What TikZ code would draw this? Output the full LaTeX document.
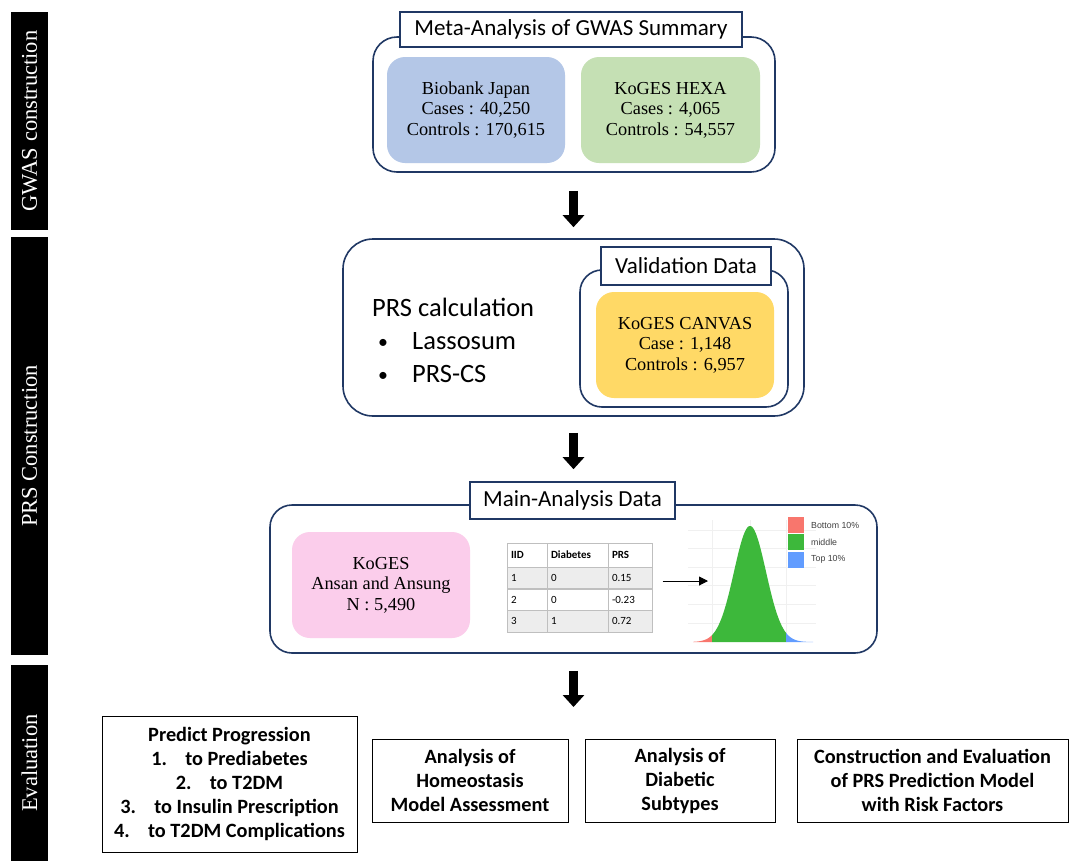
\documentclass[tikz,border=0pt]{standalone}
\usepackage{fontspec}
\setmainfont{Liberation Serif}
\newfontfamily\calfont{Carlito}
\newfontfamily\helvfont{Liberation Sans}
\usetikzlibrary{arrows.meta,calc}
\definecolor{navy}{HTML}{203864}
\definecolor{bjblue}{HTML}{B4C7E7}
\definecolor{hexagreen}{HTML}{C5E0B4}
\definecolor{canvasyellow}{HTML}{FFD966}
\definecolor{kogespink}{HTML}{FBCDEB}
\definecolor{plotgreen}{HTML}{3DB83B}
\definecolor{plotred}{HTML}{F8766D}
\definecolor{plotblue}{HTML}{619CFF}
\definecolor{tabgray}{HTML}{EDEDED}
\definecolor{tabline}{HTML}{BFBFBF}
\newcommand{\smbullet}{\raisebox{1pt}{\scalebox{0.75}{\textbullet}}}
\tikzset{
  sidebar/.style={fill=black, draw=none, minimum height=37pt, inner sep=0pt, text=white,
    font=\fontsize{22.5}{24}\selectfont, rotate=90},
  group/.style={draw=navy, line width=1.6pt, fill=white, inner sep=0pt},
  titlebox/.style={draw=navy, line width=1.6pt, fill=white, inner sep=0pt,
    font=\calfont\fontsize{23}{26}\selectfont},
  databox/.style={draw=none, rounded corners=18pt, inner sep=0pt, align=center,
    font=\fontsize{18.3}{20.5}\selectfont},
  evalbox/.style={draw=black, line width=1pt, inner sep=0pt, align=center,
    font=\calfont\bfseries\fontsize{20.3}{24}\selectfont},
  bigarrow/.style={line width=9pt, -{Triangle[width=21pt,length=12pt]}},
  cell/.style={draw=tabline, line width=1pt, align=left, inner sep=4pt, anchor=center,
    minimum height=22pt, font=\calfont\fontsize{11}{13}\selectfont},
}
\begin{document}
\begin{tikzpicture}[x=1pt,y=-1pt]
\useasboundingbox (0,0) rectangle (1075,863);

% side bars
\node[sidebar, minimum width=218pt] (bar1) at (29.5,121) {GWAS construction};
\node[sidebar, minimum width=418pt] (bar2) at (29.5,446) {PRS Construction};
\node[sidebar, minimum width=196pt] (bar3) at (29.5,763) {Evaluation};

% GWAS group
\node[group, rounded corners=24pt, minimum width=402pt, minimum height=135pt] (g1) at (574,104.5) {};
\node[titlebox, minimum width=342pt, minimum height=35pt] (t1) at (571,29.5) {Meta-Analysis of GWAS Summary};
\node[databox, fill=bjblue, minimum width=178pt, minimum height=106pt] (bj) at (476,110)
  {Biobank Japan\\Cases : 40,250\\Controls : 170,615};
\node[databox, fill=hexagreen, minimum width=179pt, minimum height=106pt] (hexa) at (670.5,110)
  {KoGES HEXA\\Cases : 4,065\\Controls : 54,557};

% PRS group
\node[group, rounded corners=30pt, minimum width=461pt, minimum height=177pt] (prs) at (573.5,327.5) {};
\node[anchor=west, inner sep=0pt, align=left, font=\calfont\fontsize{26.5}{33}\selectfont] (calc) at (372,340)
  {PRS calculation\\\hspace*{6pt}\makebox[34pt][l]{\smbullet}Lassosum\\\hspace*{6pt}\makebox[34pt][l]{\smbullet}PRS-CS};
\node[group, rounded corners=22pt, minimum width=208pt, minimum height=137pt] (val) at (684,338.5) {};
\node[titlebox, minimum width=170pt, minimum height=38pt] (valt) at (686,266) {Validation Data};
\node[databox, fill=canvasyellow, minimum width=178pt, minimum height=106pt] (canvas) at (685,345)
  {KoGES CANVAS\\Case : 1,148\\Controls : 6,957};

% Main analysis group
\node[group, rounded corners=22pt, minimum width=607pt, minimum height=148pt] (main) at (573.5,579) {};
\node[titlebox, minimum width=205pt, minimum height=37pt] (maint) at (572.5,500.5) {Main-Analysis Data};
\node[databox, fill=kogespink, minimum width=178pt, minimum height=106pt] (koges) at (381,585)
  {KoGES\\Ansan and Ansung\\N : 5,490};

% table
\begin{scope}[every node/.style={cell}]
\node[text width=32pt, minimum height=24pt] (h1) at (527,555) {\bfseries IID};
\node[text width=53pt, minimum height=24pt] (h2) at (577.5,555) {\bfseries Diabetes};
\node[text width=36pt, minimum height=24pt] (h3) at (630,555) {\bfseries PRS};
\node[text width=32pt, fill=tabgray] (a1) at (527,578) {1};
\node[text width=53pt, fill=tabgray] (a2) at (577.5,578) {0};
\node[text width=36pt, fill=tabgray] (a3) at (630,578) {0.15};
\node[text width=32pt] (b1) at (527,599.5) {2};
\node[text width=53pt] (b2) at (577.5,599.5) {0};
\node[text width=36pt] (b3) at (630,599.5) {-0.23};
\node[text width=32pt, fill=tabgray] (c1) at (527,621) {3};
\node[text width=53pt, fill=tabgray] (c2) at (577.5,621) {1};
\node[text width=36pt, fill=tabgray] (c3) at (630,621) {0.72};
\end{scope}

% density plot
\coordinate (plotL) at (708,581);
\foreach \yy in {530,548,567,585,604,623}
  \draw[black!6, line width=0.6pt] (688,\yy) -- (816,\yy);
\foreach \xx in {712,750,786}
  \draw[black!6, line width=0.6pt] (\xx,520) -- (\xx,642);
\fill[plotred] (693,642) -- plot[domain=693:712, samples=30] (\x,{642-116*exp(-((\x-750)^2)/512)}) -- (712,642) -- cycle;
\fill[plotgreen] (712,642) -- plot[domain=712:786, samples=120] (\x,{642-116*exp(-((\x-750)^2)/512)}) -- (786,642) -- cycle;
\fill[plotblue] (786,642) -- plot[domain=786:813, samples=30] (\x,{642-116*exp(-((\x-750)^2)/512)}) -- (813,642) -- cycle;
\node[fill=plotred, minimum size=16pt, inner sep=0pt] (lg1) at (796,525) {};
\node[fill=plotgreen, minimum size=16pt, inner sep=0pt] (lg2) at (796,542) {};
\node[fill=plotblue, minimum size=16pt, inner sep=0pt] (lg3) at (796,559.5) {};
\begin{scope}[every node/.style={anchor=west, inner sep=0pt, font=\helvfont\fontsize{8.8}{10}\selectfont, text=black!75}]
\node (lt1) at (811,525) {Bottom 10\%};
\node (lt2) at (811,542) {middle};
\node (lt3) at (811,559.5) {Top 10\%};
\end{scope}
\draw[line width=1pt, -{Triangle[width=9pt,length=9pt]}] ([xshift=10pt]a3.east |- plotL) -- (plotL);

% big arrows
\coordinate (evtop) at (573.5,707);
\draw[bigarrow, shorten <=18pt, shorten >=11pt] (g1.south -| 573.5,0) -- (prs.north -| 573.5,0);
\draw[bigarrow, shorten <=16pt, shorten >=12pt] (prs.south) -- (maint.north -| prs.south);
\draw[bigarrow, shorten <=17pt] (main.south) -- (evtop);

% evaluation boxes
\node[evalbox, minimum width=255pt, minimum height=136pt] (e1) at (229.5,784)
  {Predict Progression\\1.\hspace{0.9em}to Prediabetes\\2.\hspace{0.9em}to T2DM\\3.\hspace{0.9em}to Insulin Prescription\\4.\hspace{0.9em}to T2DM Complications};
\node[evalbox, minimum width=196pt, minimum height=83pt] (e2) at (470,780.5)
  {Analysis of\\Homeostasis\\Model Assessment};
\node[evalbox, minimum width=190pt, minimum height=83pt] (e3) at (680,780.5)
  {Analysis of\\Diabetic\\Subtypes};
\node[evalbox, minimum width=271pt, minimum height=83pt] (e4) at (932.5,780.5)
  {Construction and Evaluation\\of PRS Prediction Model\\with Risk Factors};
\end{tikzpicture}
\end{document}
